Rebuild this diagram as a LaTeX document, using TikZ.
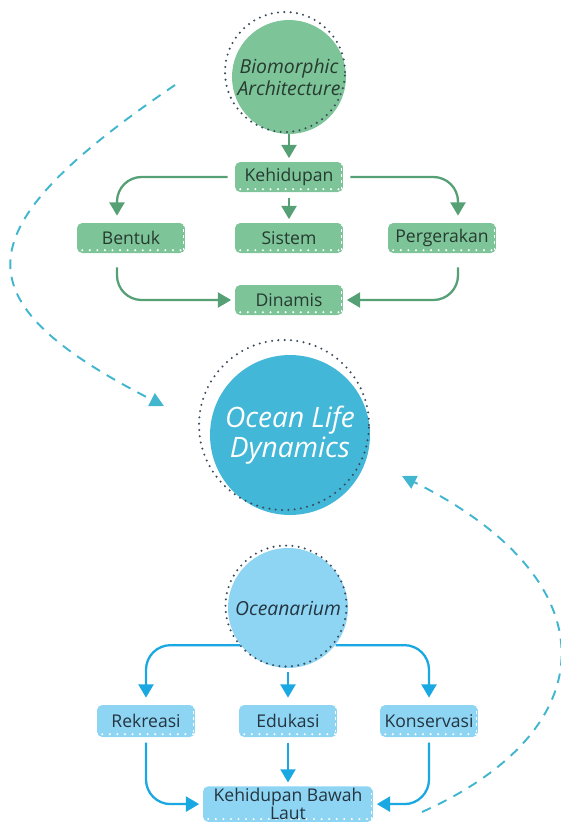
\documentclass[tikz,border=0pt]{standalone}
\usepackage{fontspec}
\setmainfont{Open Sans}
\usetikzlibrary{arrows.meta}
\definecolor{LeafGreen}{RGB}{125, 196, 152}
\definecolor{LeafLine}{RGB}{86, 160, 118}
\definecolor{LeafText}{RGB}{38, 58, 48}
\definecolor{SeaBlue}{RGB}{66, 183, 216}
\definecolor{SkyBlue}{RGB}{142, 213, 243}
\definecolor{SkyLine}{RGB}{26, 168, 226}
\definecolor{SkyText}{RGB}{36, 52, 64}
\definecolor{DashTeal}{RGB}{66, 182, 206}
\definecolor{RingGray}{RGB}{58, 74, 90}

\begin{document}
\begin{tikzpicture}[x=0.02cm, y=-0.02cm,
    perforated/.style={path picture={
        \draw[white, line width=1.3pt, line cap=round, dash pattern=on 0pt off 4.3pt]
          ([xshift=3pt,yshift=1.6pt]path picture bounding box.south west) -- ([yshift=1.6pt]path picture bounding box.south east);
        \draw[white, line width=0.9pt, dash pattern=on 1.5pt off 2pt]
          ([xshift=-0.8pt]path picture bounding box.north east) -- ([xshift=-0.8pt]path picture bounding box.south east);}},
    greenbox/.style={rectangle, rounded corners=3pt, fill=LeafGreen, text=LeafText, minimum width=2.16cm, minimum height=0.6cm, inner sep=2pt, font=\fontsize{10}{12}\selectfont, perforated},
    bluebox/.style={rectangle, rounded corners=3pt, fill=SkyBlue, text=SkyText, minimum width=1.96cm, minimum height=0.64cm, inner sep=2pt, font=\fontsize{10}{12}\selectfont, perforated},
    ring/.style={draw=RingGray, line width=1.3pt, line cap=round, dash pattern=on 0pt off 3.6pt},
    greenarrow/.style={draw=LeafLine, line width=1.3pt, rounded corners=14pt, -{Triangle[length=7.5pt,width=8.5pt]}},
    bluearrow/.style={draw=SkyLine, line width=1.3pt, rounded corners=14pt, -{Triangle[length=7.5pt,width=8.5pt]}},
    dashcurve/.style={draw=DashTeal, line width=1.1pt, dash pattern=on 5.5pt off 4.5pt, -{Triangle[length=8pt,width=8pt]}}
]
\useasboundingbox (0,0) rectangle (561,823);

% Biomorphic Architecture
\node[circle, fill=LeafGreen, minimum size=2.28cm, inner sep=0pt, align=center, text=LeafText,
      font=\itshape\fontsize{11}{12.5}\selectfont] (bio) at (289,77) {Biomorphic\\Architecture};
\draw[ring] (285,72) circle (1.2cm);
\node[greenbox] (kehidupan) at (289,177) {Kehidupan};
\node[greenbox] (bentuk) at (131,238) {Bentuk};
\node[greenbox] (sistem) at (289,238) {Sistem};
\node[greenbox] (gerak) at (442,238) {Pergerakan};
\node[greenbox] (dinamis) at (289,300) {Dinamis};

\draw[greenarrow, shorten >=2pt] (bio.south) -- (kehidupan.north);
\draw[greenarrow, shorten <=4pt, shorten >=4pt] (kehidupan.west) -| ([xshift=-0.28cm]bentuk.north);
\draw[greenarrow, shorten <=4pt, shorten >=4pt] (kehidupan.east) -| ([xshift=0.32cm]gerak.north);
\draw[greenarrow, shorten <=3pt, shorten >=2pt] (kehidupan.south) -- (sistem.north);
\draw[greenarrow, shorten <=8pt, shorten >=2pt] ([xshift=-0.28cm]bentuk.south) |- (dinamis.west);
\draw[greenarrow, shorten <=8pt, shorten >=2pt] ([xshift=0.32cm]gerak.south) |- (dinamis.east);

% Ocean Life Dynamics
\node[circle, fill=SeaBlue, minimum size=3.2cm, inner sep=0pt, align=center, text=white,
      font=\itshape\fontsize{16}{17}\selectfont] (ocean) at (290,435) {Ocean Life\\Dynamics};
\draw[ring] (284,425) circle (1.7cm);

% Oceanarium
\node[circle, fill=SkyBlue, minimum size=2.4cm, inner sep=0pt, text=SkyText,
      font=\itshape\fontsize{11}{12.5}\selectfont] (oceanarium) at (288,608) {Oceanarium};
\draw[ring] (286,606) circle (1.21cm);
\node[bluebox] (rekreasi) at (146,721) {Rekreasi};
\node[bluebox] (edukasi) at (288,721) {Edukasi};
\node[bluebox] (konservasi) at (429,721) {Konservasi};
\node[bluebox, anchor=north, minimum width=3.4cm, inner ysep=1pt, align=center,
      font=\fontsize{10}{10.5}\selectfont] (bawahlaut) at (288,786) {Kehidupan Bawah\\Laut};

\draw[bluearrow, shorten >=4pt] (oceanarium.218) -| (rekreasi.north);
\draw[bluearrow, shorten >=4pt] (oceanarium.-38) -| (konservasi.north);
\draw[bluearrow, shorten <=2pt, shorten >=4pt] (oceanarium.south) -- (edukasi.north);
\draw[bluearrow, shorten <=3pt, shorten >=2pt] (rekreasi.south) |- (bawahlaut.west);
\draw[bluearrow, shorten <=3pt, shorten >=2pt] (edukasi.south) -- (bawahlaut.north);
\draw[bluearrow, shorten <=3pt, shorten >=2pt] (konservasi.south) |- (bawahlaut.east);

% Links to the centre
\coordinate (fromtop) at (175,85);
\coordinate (totop) at (164,406);
\coordinate (frombottom) at (422,812);
\coordinate (tobottom) at (402,476);
\draw[dashcurve] (fromtop) .. controls (-38,230) and (-43,300) .. (totop);
\draw[dashcurve] (frombottom) .. controls (605,730) and (614,582) .. (tobottom);

\end{tikzpicture}
\end{document}
